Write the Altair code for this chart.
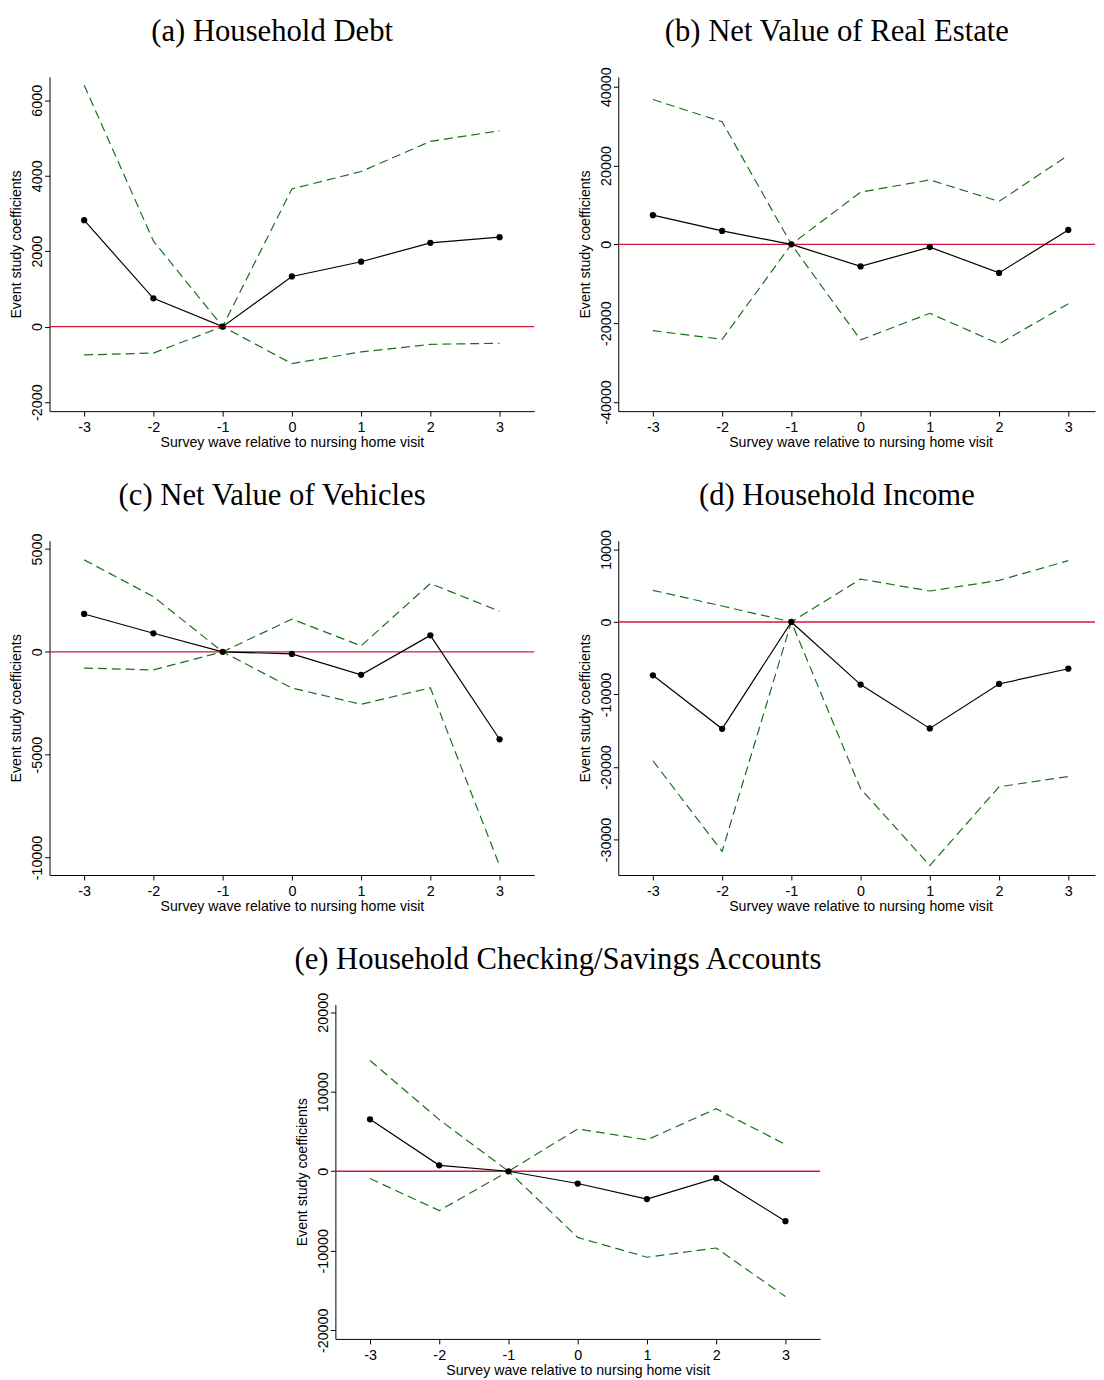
import altair as alt
import pandas as pd

waves = [-3, -2, -1, 0, 1, 2, 3]

# (a) Household Debt
debt_coef = [2820, 750, 0, 1330, 1720, 2220, 2370]
debt_hi = [6400, 2270, 0, 3650, 4110, 4910, 5190]
debt_lo = [-750, -700, 0, -980, -670, -470, -440]
debt_ticks = [-2000, 0, 2000, 4000, 6000]

# (b) Net Value of Real Estate
re_coef = [7400, 3400, 0, -5600, -700, -7250, 3650]
re_hi = [36750, 31100, 0, 13250, 16350, 10900, 22600]
re_lo = [-21900, -24100, 0, -24250, -17500, -25250, -15100]
re_ticks = [-40000, -20000, 0, 20000, 40000]

# (c) Net Value of Vehicles
veh_coef = [1840, 900, 0, -100, -1120, 800, -4250]
veh_hi = [4470, 2680, 0, 1590, 290, 3320, 1970]
veh_lo = [-790, -880, 0, -1760, -2550, -1750, -10390]
veh_ticks = [-10000, -5000, 0, 5000]

# (d) Household Income
inc_coef = [-7360, -14730, 0, -8640, -14680, -8550, -6450]
inc_hi = [4360, 2200, 0, 5910, 4270, 5730, 8450]
inc_lo = [-19140, -31640, 0, -23000, -33590, -22730, -21320]
inc_ticks = [-30000, -20000, -10000, 0, 10000]

# (e) Household Checking/Savings Accounts
sav_coef = [6530, 750, 0, -1540, -3490, -870, -6280]
sav_hi = [13930, 6500, 0, 5320, 3950, 7860, 3370]
sav_lo = [-920, -4950, 0, -8320, -10810, -9650, -15760]
sav_ticks = [-20000, -10000, 0, 10000, 20000]

RED = "#d7143c"
GREEN = "#1a701a"
XTITLE = "Survey wave relative to nursing home visit"
YTITLE = "Event study coefficients"
PXW = 70  # pixels per survey wave
H = 338
LABEL_FS = 14.5
TITLE_FS = 31


def label_overhang(ydomain, yticks):
    # how far the rotated top tick label reaches above the plot area
    top = max(yticks)
    dist = (ydomain[1] - top) / (ydomain[1] - ydomain[0]) * H
    half = len(str(top)) * 0.556 * LABEL_FS / 2
    return max(0.0, half - dist)


def panel(title, coef, lo, hi, ydomain, yticks, xmax):
    width = round((xmax + 3.5) * PXW)
    rows = []
    for w, c, l, h in zip(waves, coef, lo, hi):
        rows.append({"wave": w, "value": c, "series": "coef"})
        rows.append({"wave": w, "value": l, "series": "lo"})
        rows.append({"wave": w, "value": h, "series": "hi"})
    df = pd.DataFrame(rows)
    xs = alt.X(
        "wave:Q",
        scale=alt.Scale(domain=[-3.5, xmax], nice=False, zero=False),
        axis=alt.Axis(
            values=waves, title=XTITLE, labelExpr="datum.value + ''",
            labelAngle=0, labelPadding=5, labelFlush=False,
            titleX=3.5 * PXW, titleY=32, titleAlign="center", titleBaseline="middle",
        ),
    )
    ys = alt.Y(
        "value:Q",
        scale=alt.Scale(domain=ydomain, nice=False, zero=False),
        axis=alt.Axis(
            values=yticks, title=YTITLE, labelExpr="datum.value + ''",
            labelAngle=270, labelAlign="center", labelBaseline="alphabetic",
            labelPadding=3, labelFlush=False, labelOverlap=False,
            titleAngle=270, titleX=-33, titleY=H / 2,
            titleAlign="center", titleBaseline="middle",
        ),
    )
    zero = alt.Chart(pd.DataFrame({"value": [0]})).mark_rule(
        color=RED, strokeWidth=1.4
    ).encode(y=ys)
    ci = alt.Chart(df).transform_filter("datum.series != 'coef'").mark_line(
        color=GREEN, strokeDash=[9, 5], strokeWidth=1.2
    ).encode(x=xs, y=ys, detail="series:N")
    est = alt.Chart(df).transform_filter("datum.series == 'coef'").mark_line(
        color="black", strokeWidth=1.2,
        point=alt.OverlayMarkDef(filled=True, color="black", size=40, opacity=1),
    ).encode(x=xs, y=ys)
    return alt.layer(zero, ci, est).properties(
        width=width, height=H,
        title=alt.TitleParams(
            text=title, font="Liberation Serif", fontSize=TITLE_FS, fontWeight="normal",
            color="black", anchor="middle", frame="group", baseline="alphabetic",
            offset=5 - label_overhang(ydomain, yticks), dx=-20,
        ),
    )


pa = panel("(a) Household Debt", debt_coef, debt_lo, debt_hi, [-2240, 6620], debt_ticks, 3.5)
pb = panel("(b) Net Value of Real Estate", re_coef, re_lo, re_hi, [-42330, 42500], re_ticks, 3.386)
pc = panel("(c) Net Value of Vehicles", veh_coef, veh_lo, veh_hi, [-10850, 5400], veh_ticks, 3.5)
pd_ = panel("(d) Household Income", inc_coef, inc_lo, inc_hi, [-34900, 11200], inc_ticks, 3.386)
pe = panel("(e) Household Checking/Savings Accounts", sav_coef, sav_lo, sav_hi, [-21085, 20960], sav_ticks, 3.5)

spacer = alt.Chart(pd.DataFrame({"v": [0]})).mark_point(opacity=0).encode(
    x=alt.X("v:Q", axis=None), y=alt.Y("v:Q", axis=None)
).properties(width=246, height=1)

row1 = alt.hconcat(pa, pb, spacing=44)
row2 = alt.hconcat(pc, pd_, spacing=44)
row3 = alt.hconcat(spacer, pe, spacing=0)

chart = alt.vconcat(row1, row2, row3, spacing=29).properties(
    padding={"left": 2, "top": 0, "right": 0, "bottom": 0}
).configure_view(stroke=None).configure_axis(
    domainColor="black", tickColor="black", labelColor="black", titleColor="black",
    grid=False, labelFont="Liberation Sans", titleFont="Liberation Sans",
    labelFontSize=LABEL_FS, titleFontSize=14.3, titleFontWeight="normal",
    tickSize=5, domainWidth=1, tickWidth=1,
)

chart.save("out.html", embed_options={"renderer": "svg", "actions": False})
